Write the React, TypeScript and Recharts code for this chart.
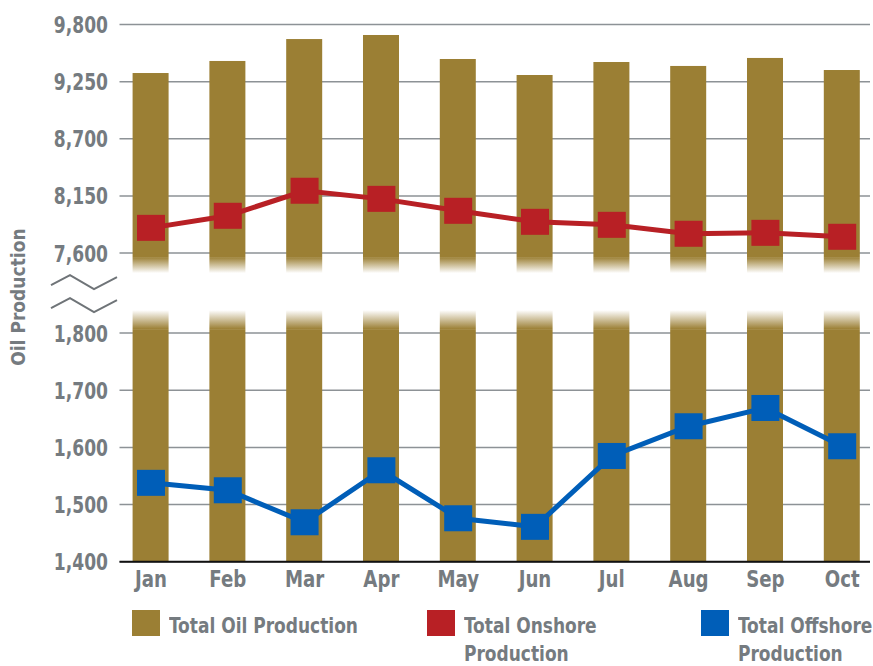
import React from 'react';
import { ComposedChart, Bar, Line, XAxis, YAxis, CartesianGrid } from 'recharts';

// ---- data ----
const months = ['Jan', 'Feb', 'Mar', 'Apr', 'May', 'Jun', 'Jul', 'Aug', 'Sep', 'Oct'];
const totalOil = [9333, 9449, 9660, 9699, 9468, 9314, 9439, 9401, 9478, 9362];
const onshore = [7843, 7959, 8200, 8122, 8007, 7901, 7872, 7786, 7795, 7757];
const offshore = [1538, 1525, 1469, 1560, 1476, 1461, 1585, 1637, 1669, 1602];
const bottomTicks = [1400, 1500, 1600, 1700, 1800];
const topTicks = [7600, 8150, 8700, 9250, 9800];
const legendItems = [
  { lines: ['Total Oil Production'], color: '#9b7f34' },
  { lines: ['Total Onshore', 'Production'], color: '#b82025' },
  { lines: ['Total Offshore', 'Production'], color: '#005eb8' },
];

// ---- broken-axis transform ----
const B_MIN = 1400, B_STEP = 100, T_MIN = 7600, T_STEP = 550, GAP = 1.4;
const B_MAX_V = (bottomTicks[bottomTicks.length - 1] - B_MIN) / B_STEP; // 4
const T_START_V = B_MAX_V + GAP; // 5.4
const toV = (val: number) => (val < 5000 ? (val - B_MIN) / B_STEP : T_START_V + (val - T_MIN) / T_STEP);
const fromV = (v: number) => (v <= B_MAX_V + 0.01 ? B_MIN + v * B_STEP : T_MIN + (v - T_START_V) * T_STEP);
const yTicks = [...bottomTicks, ...topTicks].map(toV);
const yMax = toV(topTicks[topTicks.length - 1]);

const data = months.map((m, i) => ({
  idx: i,
  month: m,
  totV: toV(totalOil[i]),
  onV: toV(onshore[i]),
  offV: toV(offshore[i]),
}));

const GOLD = '#9b7f34';
const RED = '#b82025';
const BLUE = '#005eb8';
const TEXT = '#757b80';
const GRID = '#8d9296';
const FONT = "'DejaVu Sans Condensed', 'DejaVu Sans', sans-serif";

const BrokenBar = (props: any) => {
  const { x, y, width, height, payload, index } = props;
  if (!height || height <= 0) return null;
  const y0 = y + height;
  const ppu = height / payload.totV;
  const yBreakTop = y0 - T_START_V * ppu; // 7600 level
  const yBreakBot = y0 - B_MAX_V * ppu; // 1800 level
  const f1s = yBreakTop + 4, f1e = yBreakTop + 20;
  const f2s = yBreakBot - 23, f2e = yBreakBot - 4;
  const idT = `fadeT${index}`, idB = `fadeB${index}`;
  return (
    <g>
      <defs>
        <linearGradient id={idT} x1="0" y1="0" x2="0" y2="1">
          <stop offset="0" stopColor={GOLD} stopOpacity={1} />
          <stop offset="1" stopColor={GOLD} stopOpacity={0} />
        </linearGradient>
        <linearGradient id={idB} x1="0" y1="0" x2="0" y2="1">
          <stop offset="0" stopColor={GOLD} stopOpacity={0} />
          <stop offset="1" stopColor={GOLD} stopOpacity={1} />
        </linearGradient>
      </defs>
      <rect x={x} y={y} width={width} height={f1s - y} fill={GOLD} />
      <rect x={x} y={f1s} width={width} height={f1e - f1s} fill={`url(#${idT})`} />
      <rect x={x} y={f2s} width={width} height={f2e - f2s} fill={`url(#${idB})`} />
      <rect x={x} y={f2e} width={width} height={y0 - f2e} fill={GOLD} />
    </g>
  );
};

const SquareDot = (color: string) => (props: any) => {
  const { cx, cy, index } = props;
  if (cx == null || cy == null) return null;
  return <rect key={`d${index}`} x={cx - 14} y={cy - 13} width={28} height={26} fill={color} />;
};

const YTick = (props: any) => {
  const { x, y, payload } = props;
  const val = Math.round(fromV(payload.value));
  const isBreak = Math.abs(payload.value - B_MAX_V) < 0.001;
  return (
    <g>
      <text transform={`translate(${x} ${y}) scale(0.81 1)`} x={0} y={0} dy="0.36em" textAnchor="end" fill={TEXT}
        fontFamily={FONT} fontWeight="bold" fontSize={23.5}>
        {val.toLocaleString('en-US')}
      </text>
      {isBreak && (
        <g fill="none" stroke="#6f7478" strokeWidth={2}>
          <polyline points={`${x - 57},${y - 48} ${x - 38},${y - 58} ${x - 14},${y - 44} ${x + 9},${y - 56}`} />
          <polyline points={`${x - 57},${y - 25} ${x - 38},${y - 35} ${x - 14},${y - 21} ${x + 9},${y - 33}`} />
        </g>
      )}
    </g>
  );
};

const XTick = (props: any) => {
  const { x, y, payload } = props;
  return (
    <text transform={`translate(${x} ${y}) scale(0.86 1)`} x={0} y={0} dy="0.36em" textAnchor="middle" fill={TEXT}
      fontFamily={FONT} fontWeight="bold" fontSize={23.5}>
      {months[payload.value]}
    </text>
  );
};

const YTitle = (props: any) => {
  const { viewBox } = props;
  const cx = viewBox.x + 18;
  const cy = viewBox.y + viewBox.height / 2 + 4;
  return (
    <text x={cx} y={cy} transform={`rotate(-90 ${cx} ${cy})`} textAnchor="middle" dominantBaseline="central"
      fill={TEXT} fontFamily={FONT} fontWeight="bold" fontSize={19}>
      Oil Production
    </text>
  );
};

export default function App() {
  return (
    <div style={{ position: 'absolute', left: 0, top: 0, width: 873, height: 666, background: '#fff', overflow: 'hidden' }}>
      <ComposedChart
        width={873}
        height={666}
        data={data}
        margin={{ top: 24.5, right: 3, bottom: 64.3, left: 0 }}
      >
        <CartesianGrid horizontal vertical={false} stroke={GRID} strokeWidth={1.5} />
        <XAxis
          dataKey="idx"
          type="number"
          domain={[-0.41, 9.362]}
          ticks={months.map((_, i) => i)}
          allowDataOverflow
          height={40}
          tickLine={false}
          tickSize={0}
          tickMargin={17}
          axisLine={{ stroke: '#111', strokeWidth: 2 }}
          tick={<XTick />}
          interval={0}
        />
        <YAxis
          type="number"
          domain={[0, yMax]}
          ticks={yTicks}
          width={119.5}
          axisLine={false}
          tickLine={false}
          tickSize={0}
          tickMargin={11.5}
          tick={<YTick />}
          interval={0}
          label={<YTitle />}
        />
        <Bar dataKey="totV" barSize={36} fill={GOLD} shape={<BrokenBar />} isAnimationActive={false} />
        <Line dataKey="onV" stroke={RED} strokeWidth={5} dot={SquareDot(RED)} activeDot={false} isAnimationActive={false} />
        <Line dataKey="offV" stroke={BLUE} strokeWidth={5} dot={SquareDot(BLUE)} activeDot={false} isAnimationActive={false} />
      </ComposedChart>
      {legendItems.map((item, i) => {
        const lefts = [132, 427, 701];
        return (
          <div key={i} style={{ position: 'absolute', left: lefts[i], top: 610, display: 'flex', alignItems: 'flex-start' }}>
            <div style={{ width: 28, height: 26, background: item.color, flex: 'none' }} />
            <div style={{ marginLeft: 9, marginTop: 2, fontFamily: FONT, fontWeight: 'bold', fontSize: 22, lineHeight: '28px', color: TEXT, whiteSpace: 'nowrap', transform: 'scaleX(0.86)', transformOrigin: '0 0' }}>
              {item.lines.map((l, j) => <div key={j}>{l}</div>)}
            </div>
          </div>
        );
      })}
    </div>
  );
}
